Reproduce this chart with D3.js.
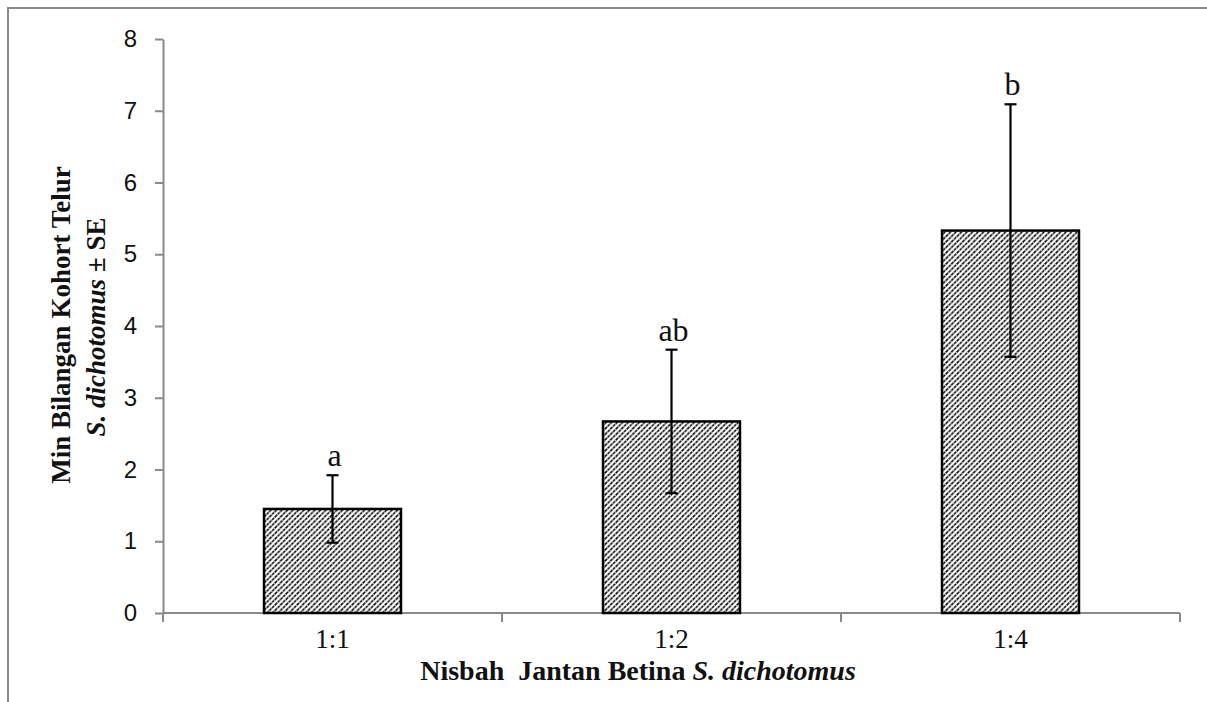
<!DOCTYPE html>
<html>
<head>
<meta charset="utf-8">
<script src="https://cdn.jsdelivr.net/npm/d3@7"></script>
<style>
  body { margin: 0; background: #fff; }
  svg { display: block; }
</style>
</head>
<body>
<svg width="1207" height="702"></svg>
<script>
// data
var ratios = ["1:1", "1:2", "1:4"];
var means = [1.45, 2.67, 5.33];
var errors = [0.47, 1.0, 1.76];
var letters = ["a", "ab", "b"];
var yTicks = [0, 1, 2, 3, 4, 5, 6, 7, 8];

var svg = d3.select("svg");
const axisGrey = "#898989";
var serif = "'Liberation Serif', 'Times New Roman', serif";

// outer frame (only top and left visible in the crop)
svg.append("path")
  .attr("d", "M8,702 V8 H1207")
  .attr("fill", "none")
  .attr("stroke", axisGrey)
  .attr("stroke-width", 2);

var x = d3.scaleBand().domain(ratios).range([163, 1180]).padding(0);
var y = d3.scaleLinear().domain([0, 8]).range([613, 39]);
var barW = x.bandwidth() * 0.404;

// hatch pattern
var defs = svg.append("defs");
var pat = defs.append("pattern")
  .attr("id", "hatch")
  .attr("patternUnits", "userSpaceOnUse")
  .attr("width", 5.5)
  .attr("height", 5.5);
pat.append("rect").attr("width", 5.5).attr("height", 5.5).attr("fill", "#fff");
pat.append("path")
  .attr("d", "M-1,1 L1,-1 M0,5.5 L5.5,0 M4.5,6.5 L6.5,4.5")
  .attr("stroke", "#000")
  .attr("stroke-width", 1.5)
  .attr("stroke-dasharray", "3,0.7");

// y axis
var yAxis = svg.append("g")
  .attr("transform", "translate(163,0)")
  .call(d3.axisLeft(y).tickValues(yTicks).tickSize(8).tickSizeOuter(0).tickPadding(18));
yAxis.select(".domain").attr("stroke", axisGrey).attr("stroke-width", 2);
yAxis.selectAll(".tick line").attr("stroke", axisGrey).attr("stroke-width", 2);
yAxis.selectAll(".tick text")
  .attr("fill", "#111")
  .style("font-family", "'Liberation Sans', Arial, sans-serif")
  .style("font-size", "24px");

// x axis: ticks at band boundaries
var bounds = [163].concat(ratios.map(function (r) { return x(r) + x.bandwidth(); }));
var xAxisG = svg.append("g");
xAxisG.append("line")
  .attr("x1", 163).attr("x2", 1180)
  .attr("y1", y(0)).attr("y2", y(0))
  .attr("stroke", axisGrey).attr("stroke-width", 2);
xAxisG.selectAll("line.tk")
  .data(bounds)
  .join("line")
  .attr("class", "tk")
  .attr("x1", function (d) { return d; })
  .attr("x2", function (d) { return d; })
  .attr("y1", y(0))
  .attr("y2", y(0) + 9)
  .attr("stroke", axisGrey).attr("stroke-width", 2);
xAxisG.selectAll("text")
  .data(ratios)
  .join("text")
  .attr("x", function (d) { return x(d) + x.bandwidth() / 2; })
  .attr("y", 648)
  .attr("text-anchor", "middle")
  .style("font-family", serif)
  .style("font-size", "27px")
  .attr("fill", "#111")
  .text(function (d) { return d; });

// bars
var rows = ratios.map(function (r, i) {
  return { r: r, m: means[i], e: errors[i], l: letters[i] };
});

svg.append("g").selectAll("rect")
  .data(rows)
  .join("rect")
  .attr("x", function (d) { return x(d.r) + x.bandwidth() / 2 - barW / 2; })
  .attr("y", function (d) { return y(d.m); })
  .attr("width", barW)
  .attr("height", function (d) { return y(0) - y(d.m); })
  .attr("fill", "url(#hatch)")
  .attr("stroke", "#000")
  .attr("stroke-width", 2.5);

// error bars
var eb = svg.append("g").attr("stroke", "#000").attr("stroke-width", 2.2);
rows.forEach(function (d) {
  var cx = x(d.r) + x.bandwidth() / 2;
  eb.append("line").attr("x1", cx).attr("x2", cx)
    .attr("y1", y(d.m + d.e)).attr("y2", y(d.m - d.e));
  eb.append("line").attr("x1", cx - 6).attr("x2", cx + 6)
    .attr("y1", y(d.m + d.e)).attr("y2", y(d.m + d.e));
  eb.append("line").attr("x1", cx - 6).attr("x2", cx + 6)
    .attr("y1", y(d.m - d.e)).attr("y2", y(d.m - d.e));
});

// significance letters
svg.append("g").selectAll("text")
  .data(rows)
  .join("text")
  .attr("x", function (d) { return x(d.r) + x.bandwidth() / 2 + 2; })
  .attr("y", function (d) { return y(d.m + d.e) - 9; })
  .attr("text-anchor", "middle")
  .style("font-family", serif)
  .style("font-size", "32px")
  .attr("fill", "#111")
  .text(function (d) { return d.l; });

// axis titles
var xt = svg.append("text")
  .attr("x", 638).attr("y", 680)
  .attr("text-anchor", "middle")
  .style("font-family", serif)
  .style("font-size", "28px")
  .style("font-weight", "bold")
  .attr("fill", "#111");
xt.append("tspan").text("Nisbah\u00a0 Jantan Betina ");
xt.append("tspan").style("font-style", "italic").text("S. dichotomus");

svg.append("text")
  .attr("transform", "translate(70,325) rotate(-90)")
  .attr("text-anchor", "middle")
  .style("font-family", serif)
  .style("font-size", "27px")
  .style("font-weight", "bold")
  .attr("fill", "#111")
  .text("Min Bilangan Kohort Telur");

var yt2 = svg.append("text")
  .attr("transform", "translate(105,327) rotate(-90)")
  .attr("text-anchor", "middle")
  .style("font-family", serif)
  .style("font-size", "27px")
  .style("font-weight", "bold")
  .attr("fill", "#111");
yt2.append("tspan").style("font-style", "italic").text("S. dichotomus");
yt2.append("tspan").text(" \u00b1 SE");
</script>
</body>
</html>
